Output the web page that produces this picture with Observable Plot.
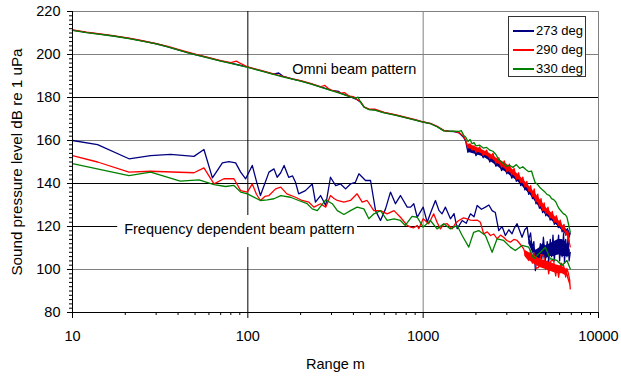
<!DOCTYPE html>
<html><head><meta charset="utf-8">
<script src="https://cdn.jsdelivr.net/npm/d3@7"></script>
<script src="https://cdn.jsdelivr.net/npm/@observablehq/plot@0.6"></script>
<style>
body{margin:0;background:#fff;font-family:"Liberation Sans",Arial,sans-serif;}
#wrap{position:relative;width:621px;height:379px;overflow:hidden;}
#legend{position:absolute;left:508px;top:16px;width:78px;height:61px;box-sizing:border-box;border:1px solid #333;background:#fff;}
.row{position:absolute;left:0;height:18px;font-size:13px;line-height:18px;color:#000;white-space:nowrap;}
.sw{position:absolute;left:4px;top:8px;width:21px;height:0;border-top:2px solid;}
.lb{position:absolute;left:27px;top:0;}
</style>
</head><body>
<div id="wrap"></div>
<script>
// ---- data ----
const seriesNames = ["273 deg", "290 deg", "330 deg"];
const seriesColors = ["#000080", "#ff0000", "#008000"];
const xMajor = [10, 100, 1000, 10000];
const xMinor = [20,30,40,50,60,70,80,90,200,300,400,500,600,700,800,900,2000,3000,4000,5000,6000,7000,8000,9000];
const yMajor = [80, 100, 120, 140, 160, 180, 200, 220];
const yMinor = d3.range(80, 221, 2);
const gridGray = [100, 160, 200, 220];
const gridBlack = [120, 140, 180];
const vGridGray = [1000, 10000];
const vGridBlack = [100];

// Omni beam pattern, 273 deg
const omni273 = [[10,211.3],[12,210.3],[14,209.6],[17,208.7],[21,207.5],[25,206.3],[30,205.0],[35,203.6],[40,202.2],[45,201.0],[50,200.0],[60,198.4],[70,197.0],[80,196.0],[90,195.0],[100,194.1],[120,192.4],[140,190.9],[150,191.4],[158,190.0],[180,188.6],[200,187.7],[230,186.3],[260,184.9],[300,183.3],[330,182.8],[340,181.9],[380,180.5],[420,179.0],[440,177.8],[460,175.6],[490,174.5],[530,174.2],[600,173.0],[700,171.8],[800,170.6],[900,169.6],[1000,168.6],[1100,167.9],[1200,166.5],[1310,164.6],[1400,164.3],[1500,164.1],[1600,163.6],[1700,161.5],
[1750,159.5],[1800,154.5],[1850,157.0],[1900,155.0],[1950,156.5],[2000,153.0],[2100,155.5],[2200,152.0],[2300,154.5],[2400,150.0],[2500,152.5],[2600,148.0],[2700,150.5],[2800,146.0],[2900,148.5],[3000,144.5],[3100,147.0],[3200,142.5],[3300,145.0],[3400,141.0],[3500,143.5],[3600,139.0],[3700,141.5],[3800,137.0],[3900,139.5],[4000,135.0],[4100,137.5],[4200,133.0],[4300,135.5],[4400,130.5],[4500,133.0],[4600,128.5],[4700,131.0],[4800,126.5],[4900,129.5],[5000,125.0],[5150,128.0],[5300,123.0],[5450,126.0],[5600,121.0],[5750,124.5],[5900,119.5],[6050,122.5],[6200,117.5],[6350,120.5],[6500,116.0],[6650,119.0],[6800,115.0],[6900,117.0]];
// envelope of the dense noise in the 273 deg omni tail: [range, low, high]
const omni273Band = [[1800,154.5,157],[2000,153.5,156],[2200,152.5,154.5],[2400,150.5,153],[2600,148.5,151],[2800,146.5,149],[3000,145,147.5],[3200,143,145.5],[3400,141.5,143.5],[3600,139.5,141.5],[3800,137.5,139.5],[4000,135.5,137.5],[4200,133.5,135.5],[4400,131,133],[4600,129,131],[4800,127,129],[5000,125.5,128],[5300,123.5,126],[5600,121.5,124],[5900,120,122.5],[6200,118,120.5],[6500,116.5,119],[6800,115.5,118],[6900,116,117]];

// Omni beam pattern, 290 deg
const omni290 = [[10,211.4],[12,210.4],[14,209.7],[17,208.8],[21,207.6],[25,206.4],[30,205.1],[35,203.8],[40,202.4],[45,201.2],[50,200.2],[60,198.6],[70,197.2],[80,196.2],[86,196.9],[92,195.6],[100,194.2],[120,192.5],[140,191.0],[160,189.7],[180,188.7],[200,187.8],[230,186.4],[260,185.0],[275,185.6],[290,184.0],[300,183.4],[340,182.0],[355,182.3],[380,180.6],[400,180.4],[420,179.1],[440,178.0],[460,175.7],[490,174.6],[530,174.6],[600,173.1],[700,171.9],[800,170.7],[900,169.7],[1000,168.7],[1100,168.0],[1200,166.6],[1310,164.7],[1400,164.4],[1500,164.2],[1600,163.7],[1700,162.0],
[1750,160.0],[1800,156.5],[1850,158.5],[1900,155.5],[1950,157.5],[2000,154.5],[2100,157.0],[2200,153.0],[2300,155.5],[2400,151.5],[2500,154.0],[2600,149.5],[2700,152.0],[2800,147.5],[2900,150.5],[3000,145.5],[3100,149.0],[3200,144.0],[3300,147.0],[3400,142.0],[3500,145.0],[3600,140.5],[3700,143.0],[3800,138.5],[3900,141.0],[4000,136.5],[4100,139.0],[4200,134.0],[4300,137.5],[4400,131.5],[4500,135.0],[4600,129.5],[4700,133.0],[4800,127.5],[4900,131.0],[5000,126.0],[5150,129.0],[5300,124.0],[5450,127.0],[5600,122.0],[5750,125.0],[5900,120.5],[6050,123.0],[6200,118.5],[6350,121.0],[6500,116.5],[6650,118.0],[6800,113.0],[6900,110.5]];
const omni290Band = [[1800,156.5,158.5],[2000,155,157],[2200,153.5,155.5],[2400,152,154],[2600,150,152],[2800,148,150.5],[3000,146,149],[3200,144.5,147],[3400,142.5,145],[3600,141,143],[3800,139,141],[4000,137,139],[4200,134.5,137],[4400,132,135],[4600,130,133],[4800,128,131],[5000,126.5,129],[5300,124.5,127],[5600,122.5,125],[5900,121,123],[6200,119,121],[6500,117,118.5],[6800,113.5,117],[6900,111,113]];

// Omni beam pattern, 330 deg
const omni330 = [[10,211.2],[12,210.2],[14,209.5],[17,208.6],[21,207.4],[25,206.2],[30,204.9],[35,203.5],[40,202.1],[45,200.9],[50,199.9],[60,198.3],[70,196.9],[80,195.9],[90,194.9],[100,194.0],[120,192.3],[140,190.8],[160,189.5],[180,188.5],[200,187.6],[230,186.2],[260,184.8],[300,183.2],[340,181.8],[380,180.4],[410,179.6],[425,180.2],[440,177.7],[460,175.5],[490,174.4],[530,174.1],[600,172.9],[700,171.7],[800,170.5],[900,169.5],[1000,168.5],[1100,167.8],[1200,166.4],[1310,164.5],[1400,164.4],[1500,164.3],[1600,164.2],[1650,164.6],[1700,162.5],
[1750,161.5],[1800,159.5],[1850,160.5],[1900,158.5],[1950,159.0],[2000,157.5],[2100,157.8],[2200,156.5],[2300,156.8],[2400,155.5],[2500,155.0],[2600,153.5],[2700,151.0],[2800,150.0],[2900,149.0],[3000,148.0],[3100,148.5],[3250,147.5],[3400,148.8],[3550,147.0],[3700,147.8],[3850,146.5],[4000,145.5],[4150,145.8],[4250,143.0],[4350,140.5],[4500,139.5],[4650,138.0],[4800,137.0],[4950,136.0],[5100,134.8],[5250,134.5],[5400,133.0],[5550,132.5],[5700,131.5],[5850,129.5],[6000,128.0],[6150,127.0],[6300,126.0],[6450,125.5],[6600,124.5],[6750,121.0],[6900,117.5]];

// Frequency dependent beam pattern, 273 deg
const fd273 = [[10,160.0],[13.9,158.1],[21,151.5],[27.9,153.0],[36.3,153.5],[49.3,152.6],[56.2,155.8],[62.8,142.6],[71.6,149.6],[78,150.2],[85.2,149.6],[91,145.3],[97.2,142.2],[106,148.4],[112,141.0],[118,134.4],[125,140.0],[132,145.3],[141,146.8],[147,142.9],[154,145.0],[161,148.4],[171,142.9],[180,143.5],[187,140.6],[195,135.2],[213,136.7],[233,139.8],[243,131.3],[260,134.4],[278,129.8],[296,142.9],[317,139.0],[338,139.8],[361,137.5],[385,139.8],[410,140.5],[430,144.5],[469,141.4],[501,141.4],[535,127.4],[571,122.8],[610,128.2],[651,136.0],[695,130.6],[742,134.4],[811,129.0],[848,129.0],[884,130.6],[925,124.3],[1000,129.0],[1054,122.0],[1110,127.0],[1175,132.1],[1230,127.5],[1282,125.9],[1340,129.0],[1431,123.6],[1500,126.0],[1563,119.0],[1669,122.8],[1760,121.5],[1862,125.9],[1950,124.5],[2032,129.8],[2150,128.0],[2265,129.0],[2370,130.0],[2473,127.4],[2580,126.5],[2698,118.1],[2820,120.0],[2944,115.8],[3080,118.5],[3213,116.6],[3300,119.0],[3434,121.3],[3550,118.0],[3664,115.0],[3800,118.5],[3917,119.7],[4000,114.0],[4100,117.0],[4178,110.0],[4280,113.0],[4365,99.5],[4450,108.0],[4550,103.0],[4659,112.0],[4750,105.0],[4850,115.0],[4975,104.2],[5100,113.0],[5200,103.0],[5309,114.0],[5400,106.0],[5500,116.0],[5600,104.0],[5700,113.0],[5800,107.0],[5922,116.0],[6000,104.0],[6100,113.0],[6200,106.0],[6321,117.0],[6400,103.0],[6500,114.0],[6607,106.0],[6700,115.0],[6800,104.0],[6900,108.0]];
const fd273Band = [[4000,112,115],[4200,108,112],[4400,104,109],[4600,105,110],[4800,106,112],[5000,105,111],[5300,106,112],[5600,106,113],[5900,107,114],[6200,106,114],[6500,106,113],[6900,106,109]];

// Frequency dependent beam pattern, 290 deg
const fd290 = [[10,153.0],[13.9,150.0],[21,145.3],[27.9,145.7],[49.3,145.0],[56.2,147.3],[64.1,139.8],[73,142.2],[83.3,142.2],[91,136.7],[99.4,136.0],[106,139.8],[112,135.0],[118,132.1],[125,134.0],[132,134.4],[144,137.5],[154,138.3],[167,135.2],[187,133.6],[204,132.1],[223,131.3],[238,129.0],[260,130.6],[278,129.0],[296,134.4],[310,133.0],[324,132.1],[353,131.3],[385,132.1],[420,135.2],[449,131.3],[479,132.1],[523,127.4],[571,127.4],[623,125.9],[682,127.4],[742,124.3],[811,120.5],[848,119.7],[884,119.4],[925,120.5],[944,119.0],[1000,123.6],[1076,121.3],[1148,125.9],[1200,122.0],[1254,118.9],[1310,121.0],[1370,121.3],[1463,118.9],[1530,121.5],[1596,122.8],[1700,124.0],[1780,123.6],[1860,123.0],[1941,122.8],[2030,123.0],[2120,122.0],[2214,116.6],[2320,117.5],[2420,115.8],[2530,116.5],[2641,114.3],[2760,116.0],[2878,115.0],[3000,113.5],[3142,112.7],[3290,114.0],[3434,113.5],[3600,111.5],[3744,109.6],[3850,106.0],[4000,104.2],[4100,109.0],[4200,103.0],[4270,108.0],[4400,100.5],[4558,101.0],[4700,107.0],[4862,106.5],[5000,100.0],[5100,104.0],[5195,98.0],[5350,104.0],[5546,104.2],[5700,97.0],[5800,102.0],[5922,96.4],[6100,103.0],[6321,101.9],[6500,96.5],[6600,100.5],[6745,98.0],[6850,95.0],[6900,91.0]];
const fd290Band = [[3800,106,109],[4200,103,107],[4600,101,105],[5000,100,104],[5400,99,103],[5800,98,102],[6200,98,101.5],[6600,97,100],[6900,92,94]];

// Frequency dependent beam pattern, 330 deg
const fd330 = [[10,149.2],[21,143.7],[27.9,145.3],[41.2,141.1],[52.7,141.7],[64.1,139.5],[74.7,138.6],[83.3,139.1],[91,136.0],[99.4,135.2],[118,132.1],[129,132.4],[141,132.9],[154,134.4],[175,133.6],[195,132.1],[218,130.6],[233,128.2],[249,127.4],[278,132.4],[303,130.6],[324,127.4],[353,125.6],[385,127.4],[420,129.0],[459,128.2],[490,123.6],[524,125.9],[571,127.4],[623,122.8],[682,123.6],[742,122.8],[791,120.5],[864,124.7],[925,124.3],[1000,119.7],[1100,122.8],[1200,118.9],[1310,121.3],[1431,118.9],[1563,120.5],[1669,115.8],[1820,110.4],[1941,117.3],[2074,118.1],[2265,115.8],[2473,108.0],[2641,114.3],[2878,113.5],[3142,110.4],[3352,108.8],[3664,111.2],[4000,110.4],[4270,105.0],[4659,108.0],[4975,110.4],[5309,105.0],[5796,104.2],[6187,101.9],[6607,104.2],[6900,100.3]];

// annotation texts (data coordinates)
const annoText = ["Omni beam pattern", "Frequency dependent beam pattern"];
const annoX = [179, 19.7];
const annoY = [193.3, 118.6];
// white box behind the second annotation [x1, x2, y1, y2]
const annoBox = [[18.1, 422, 110.2, 125.1]];

// ---- chart ----
const omni = [omni273, omni290, omni330];
const fd = [fd273, fd290, fd330];
const bands = [[omni273Band, fd273Band], [omni290Band, fd290Band], []];
const lineMarks = [];
[0,1,2].forEach(i => {
  bands[i].forEach(b => lineMarks.push(Plot.areaY(b, {x: d => d[0], y1: d => d[1], y2: d => d[2], fill: seriesColors[i]})));
  lineMarks.push(Plot.line(omni[i], {x: d => d[0], y: d => d[1], stroke: seriesColors[i], strokeWidth: 1.3}));
  lineMarks.push(Plot.line(fd[i], {x: d => d[0], y: d => d[1], stroke: seriesColors[i], strokeWidth: 1.3}));
});

const plot = Plot.plot({
  width: 621, height: 379,
  marginLeft: 72, marginRight: 23, marginTop: 11, marginBottom: 67,
  x: {type: "log", domain: [10, 10000]},
  y: {domain: [80, 220]},
  style: {fontFamily: "'Liberation Sans', Arial, sans-serif", fontSize: "14.5px", color: "#000", background: "#fff", overflow: "visible"},
  marks: [
    Plot.ruleY(gridGray, {stroke: "#808080", strokeWidth: 1}),
    Plot.ruleY(gridBlack, {stroke: "#000", strokeWidth: 1}),
    Plot.ruleX(vGridGray, {stroke: "#808080", strokeWidth: 1}),
    Plot.ruleX(vGridBlack, {stroke: "#000", strokeWidth: 1}),
    Plot.rect(annoBox, {x1: d => d[0], x2: d => d[1], y1: d => d[2], y2: d => d[3], fill: "#fff"}),
    ...lineMarks,
    Plot.text(annoText, {x: (d, i) => annoX[i], y: (d, i) => annoY[i], text: d => d, textAnchor: "start", fontSize: 14.5, fill: "#000"}),
    Plot.ruleX([10], {stroke: "#000", strokeWidth: 1}),
    Plot.ruleY([80], {stroke: "#000", strokeWidth: 1}),
    Plot.axisY({ticks: yMinor, tickSize: 3, tickFormat: () => "", label: null, stroke: "#000"}),
    Plot.axisY({ticks: yMajor, tickSize: 5, tickPadding: 7, tickFormat: d => String(d), fontSize: 14.5, label: null, stroke: "#000"}),
    Plot.axisY({ticks: [], label: "Sound pressure level dB re 1 uPa", labelAnchor: "center", labelArrow: "none", labelOffset: 61, fontSize: 15.2, dy: 2}),
    Plot.axisX({ticks: xMinor, tickSize: 3, tickFormat: () => "", label: null, stroke: "#000"}),
    Plot.axisX({ticks: xMajor, tickSize: 6, tickPadding: 12, tickFormat: d => String(d), fontSize: 14.5,
      label: "Range m", labelAnchor: "center", labelArrow: "none", labelOffset: 56, stroke: "#000"})
  ]
});
const wrap = document.getElementById("wrap");
wrap.appendChild(plot);

// legend
const leg = document.createElement("div");
leg.id = "legend";
seriesNames.forEach((name, i) => {
  const row = document.createElement("div");
  row.className = "row";
  row.style.top = (5 + i * 19) + "px";
  row.innerHTML = `<span class="sw" style="border-color:${seriesColors[i]}"></span><span class="lb">${name}</span>`;
  leg.appendChild(row);
});
wrap.appendChild(leg);
</script>
</body></html>
